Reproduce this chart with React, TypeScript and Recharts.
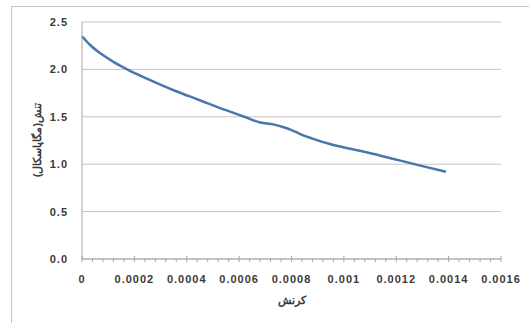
import React from "react";
import { LineChart, Line, XAxis, YAxis, CartesianGrid, Label } from "recharts";

// strain (کرنش) and stress (تنش, MPa)
const strain = [
  0, 0.00003, 0.00007, 0.00012, 0.00018, 0.00025, 0.00035, 0.00045, 0.00055,
  0.00062, 0.00068, 0.00073, 0.00077, 0.0008, 0.00084, 0.00088, 0.00095,
  0.00103, 0.00114, 0.00122, 0.0013, 0.00139,
];
const stress = [
  2.35, 2.26, 2.17, 2.08, 1.99, 1.9, 1.78, 1.675, 1.57, 1.5, 1.44, 1.42, 1.39,
  1.36, 1.31, 1.27, 1.21, 1.16, 1.09, 1.035, 0.98, 0.92,
];

const xTickLabels = ["0", "0.0002", "0.0004", "0.0006", "0.0008", "0.001", "0.0012", "0.0014", "0.0016"];
const yTickLabels = ["0.0", "0.5", "1.0", "1.5", "2.0", "2.5"];

const xLabel = "کرنش";
const yLabel = "تنش(مگاپاسکال)";

const data = strain.map((s, i) => ({ strain: s, stress: stress[i] }));

const majorTicks = xTickLabels.map(Number);
// 4 minor ticks between each pair of major ticks
const allTicks: number[] = [];
majorTicks.forEach((t, i) => {
  allTicks.push(t);
  if (i < majorTicks.length - 1) {
    const step = (majorTicks[i + 1] - t) / 5;
    for (let k = 1; k < 5; k++) allTicks.push(t + step * k);
  }
});

const font = "'Liberation Sans', Arial, sans-serif";
const textColor = "#3a3a3a";

const XTick = (props: any) => {
  const { x, y, payload } = props;
  const idx = majorTicks.findIndex((m) => Math.abs(m - payload.value) < 1e-9);
  const major = idx >= 0;
  return (
    <g>
      <line x1={x} x2={x} y1={major ? y - 3 : y} y2={major ? y + 3 : y + 3} stroke="#a6a6a6" />
      {major && (
        <text
          x={x}
          y={y + 24}
          textAnchor="middle"
          fontSize={11}
          fontWeight="bold"
          letterSpacing={1}
          fill={textColor}
          fontFamily={font}
        >
          {xTickLabels[idx]}
        </text>
      )}
    </g>
  );
};

export default function App() {
  return (
    <div style={{ position: "fixed", left: 0, top: 0, width: 529, height: 323, overflow: "hidden", background: "#fff" }}>
      <div
        style={{
          position: "absolute",
          left: 11,
          top: 6,
          width: 600,
          height: 400,
          border: "1px solid #c6c6c6",
        }}
      />
      <div style={{ position: "absolute", left: 0, top: 0 }}>
        <LineChart width={529} height={323} data={data} margin={{ top: 22, right: 28, left: 32, bottom: 34 }}>
          <CartesianGrid horizontal vertical={false} stroke="#c4c4c4" strokeWidth={1} />
          <XAxis
            dataKey="strain"
            type="number"
            domain={[0, 0.0016]}
            ticks={allTicks}
            interval={0}
            height={30}
            tickSize={0}
            tickMargin={0}
            tickLine={false}
            tick={<XTick />}
            stroke="#a6a6a6"
          >
            <Label
              content={() => (
                <text x={292} y={304} textAnchor="middle" fontSize={11} fontWeight="bold" fill={textColor} fontFamily={font}>
                  {xLabel}
                </text>
              )}
            />
          </XAxis>
          <YAxis
            type="number"
            domain={[0, 2.5]}
            ticks={yTickLabels.map(Number)}
            tickFormatter={(v: number) => v.toFixed(1)}
            width={50}
            tickSize={0}
            tickMargin={14}
            tickLine={false}
            stroke="#a6a6a6"
            tick={{ fontSize: 11, fill: textColor, fontFamily: font, fontWeight: "bold", letterSpacing: 1 }}
          >
            <Label
              content={() => (
                <text
                  x={38}
                  y={140}
                  textAnchor="middle"
                  fontSize={11}
                  fontWeight="bold"
                  fill={textColor}
                  fontFamily={font}
                  transform="rotate(-90 38 140)"
                  dominantBaseline="middle"
                >
                  {yLabel}
                </text>
              )}
            />
          </YAxis>
          <Line
            type="monotone"
            dataKey="stress"
            stroke="#4a76ad"
            strokeWidth={2.5}
            dot={false}
            isAnimationActive={false}
          />
        </LineChart>
      </div>
    </div>
  );
}
